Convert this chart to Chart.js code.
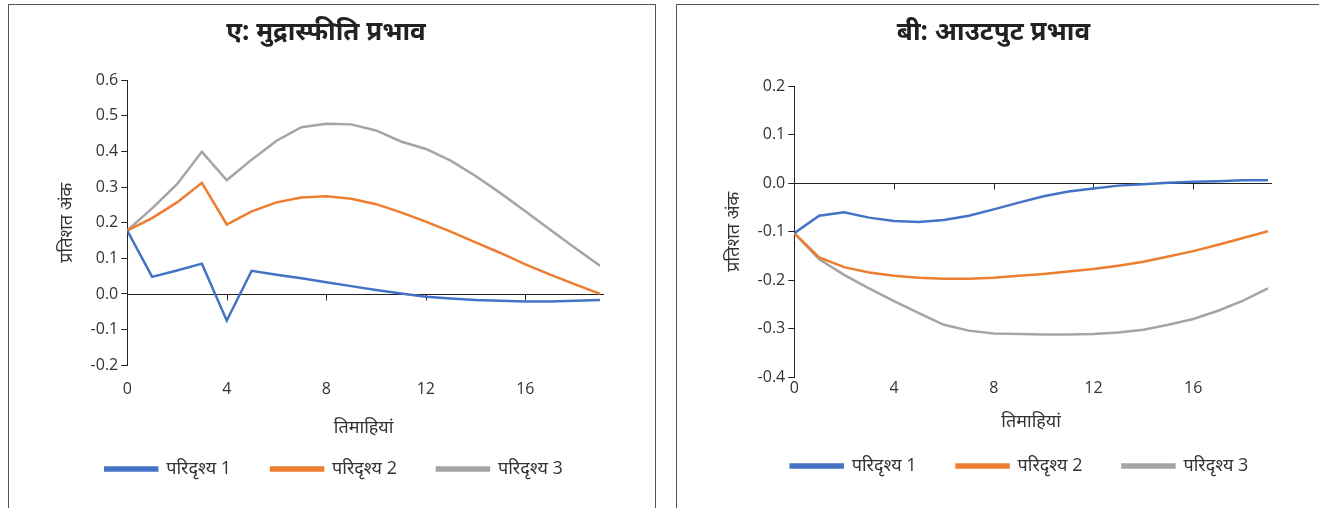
<!DOCTYPE html>
<html>
<head>
<meta charset="utf-8">
<script src="https://cdn.jsdelivr.net/npm/chart.js@4.4.1/dist/chart.umd.min.js"></script>
<style>
body { margin: 0; background: #fff; width: 1319px; height: 508px; overflow: hidden; position: relative; }
.panel { position: absolute; top: 4px; width: 648px; height: 530px; border: 1px solid #555; box-sizing: border-box; }
#pa { left: 8px; }
#pb { left: 676px; }
canvas { display: block; }
</style>
</head>
<body>
<div class="panel" id="pa"><canvas id="inflation" width="646" height="503"></canvas></div>
<div class="panel" id="pb"><canvas id="output" width="646" height="503"></canvas></div>
<script>
// quarters 0..19
const quarters = [0, 1, 2, 3, 4, 5, 6, 7, 8, 9, 10, 11, 12, 13, 14, 15, 16, 17, 18, 19];
const scenarios = ['परिदृश्य 1', 'परिदृश्य 2', 'परिदृश्य 3'];
const colors = ['#4472C4', '#ED7D31', '#A5A5A5'];

// panel A: inflation impact
const inflS1 = [0.178, 0.048, 0.066, 0.085, -0.075, 0.065, 0.054, 0.044, 0.033, 0.022,
                0.011, 0.001, -0.008, -0.013, -0.017, -0.019, -0.021, -0.021, -0.019, -0.017];
const inflS2 = [0.178, 0.213, 0.257, 0.312, 0.195, 0.232, 0.257, 0.271, 0.274, 0.267,
                0.252, 0.229, 0.203, 0.175, 0.145, 0.115, 0.083, 0.054, 0.027, 0.0];
const inflS3 = [0.178, 0.240, 0.308, 0.399, 0.319, 0.377, 0.430, 0.468, 0.478, 0.476,
                0.459, 0.428, 0.407, 0.374, 0.331, 0.283, 0.232, 0.180, 0.129, 0.079];

// panel B: output impact
const outS1 = [-0.103, -0.067, -0.060, -0.071, -0.078, -0.080, -0.076, -0.067, -0.054, -0.040,
               -0.027, -0.017, -0.011, -0.005, -0.002, 0.001, 0.003, 0.004, 0.006, 0.006];
const outS2 = [-0.103, -0.153, -0.173, -0.184, -0.191, -0.195, -0.197, -0.197, -0.195, -0.191,
               -0.187, -0.182, -0.177, -0.170, -0.162, -0.151, -0.140, -0.127, -0.113, -0.099];
const outS3 = [-0.103, -0.157, -0.189, -0.217, -0.243, -0.268, -0.292, -0.304, -0.310, -0.311,
               -0.312, -0.312, -0.311, -0.308, -0.302, -0.292, -0.280, -0.263, -0.242, -0.217];

const fontFam = "'Open Sans', 'Noto Sans', 'Noto Sans Devanagari', sans-serif";

// horizontal axis line at zero with tick marks hanging below it
const zeroLine = {
    id: 'zeroLine',
    beforeDatasetsDraw(chart) {
        const { ctx, chartArea } = chart;
        const x = chart.scales.x, y = chart.scales.y;
        const y0 = Math.round(y.getPixelForValue(0)) + 0.5;
        ctx.save();
        ctx.strokeStyle = '#222';
        ctx.lineWidth = 1;
        ctx.beginPath();
        ctx.moveTo(chartArea.left, y0);
        ctx.lineTo(chartArea.right + 4, y0);
        x.ticks.forEach(t => {
            const px = Math.round(x.getPixelForValue(t.value)) + 0.5;
            ctx.moveTo(px, y0);
            ctx.lineTo(px, y0 + 6);
        });
        ctx.stroke();
        ctx.restore();
    }
};

// nudge the legend sideways
function legendNudge(dx) {
    return {
        id: 'legendNudge',
        beforeDraw(chart) {
            chart.legend.left += dx;
            chart.legend.right += dx;
        }
    };
}

function makeChart(id, title, series, ymin, ymax, lay) {
    const ctx = document.getElementById(id);
    new Chart(ctx, {
        type: 'line',
        data: {
            labels: quarters,
            datasets: series.map((s, i) => ({
                label: scenarios[i],
                data: s,
                borderColor: colors[i],
                backgroundColor: colors[i],
                borderWidth: 2.5,
                pointRadius: 0,
                tension: 0
            }))
        },
        options: {
            responsive: false,
            animation: false,
            devicePixelRatio: 1,
            layout: { padding: { left: lay.left, right: 55, top: 0, bottom: lay.bottom } },
            plugins: {
                title: {
                    display: true,
                    text: title,
                    color: '#222',
                    font: { family: fontFam, size: 26, weight: 'bold' },
                    padding: { top: 12, bottom: lay.titleGap }
                },
                legend: {
                    display: true,
                    position: 'bottom',
                    labels: {
                        boxWidth: 52,
                        boxHeight: 3,
                        padding: 40,
                        color: '#333',
                        font: { family: fontFam, size: 18 }
                    }
                },
                tooltip: { enabled: false }
            },
            scales: {
                x: {
                    type: 'linear',
                    min: 0,
                    max: 19,
                    border: { display: false },
                    grid: { display: false, drawTicks: lay.xTicks },
                    ticks: {
                        stepSize: 4,
                        includeBounds: false,
                        padding: lay.tickPad,
                        color: '#333',
                        font: { family: fontFam, size: 16 }
                    },
                    title: {
                        display: true,
                        text: 'तिमाहियां',
                        color: '#333',
                        font: { family: fontFam, size: 18 },
                        padding: { top: lay.xTitleTop, bottom: lay.xTitleBottom }
                    }
                },
                y: {
                    min: ymin,
                    max: ymax,
                    border: { color: '#222', width: 1 },
                    grid: { drawOnChartArea: false, drawTicks: true, tickLength: 6, color: '#222' },
                    ticks: {
                        stepSize: 0.1,
                        padding: 3,
                        color: '#333',
                        font: { family: fontFam, size: 16 },
                        callback: v => v.toFixed(1)
                    },
                    title: {
                        display: true,
                        text: 'प्रतिशत अंक',
                        color: '#333',
                        font: { family: fontFam, size: 18 },
                        padding: { bottom: 10 }
                    }
                }
            }
        },
        plugins: [zeroLine, legendNudge(lay.nudge)]
    });
}

makeChart('inflation', 'ए: मुद्रास्फीति प्रभाव', [inflS1, inflS2, inflS3], -0.2, 0.6,
    { left: 43, bottom: 20, titleGap: 32, xTicks: true, tickPad: 7, xTitleTop: 11, xTitleBottom: -19, nudge: 8 });
makeChart('output', 'बी: आउटपुट प्रभाव', [outS1, outS2, outS3], -0.4, 0.2,
    { left: 42, bottom: 23, titleGap: 38, xTicks: false, tickPad: 2, xTitleTop: 11, xTitleBottom: -16, nudge: 26 });
</script>
</body>
</html>
